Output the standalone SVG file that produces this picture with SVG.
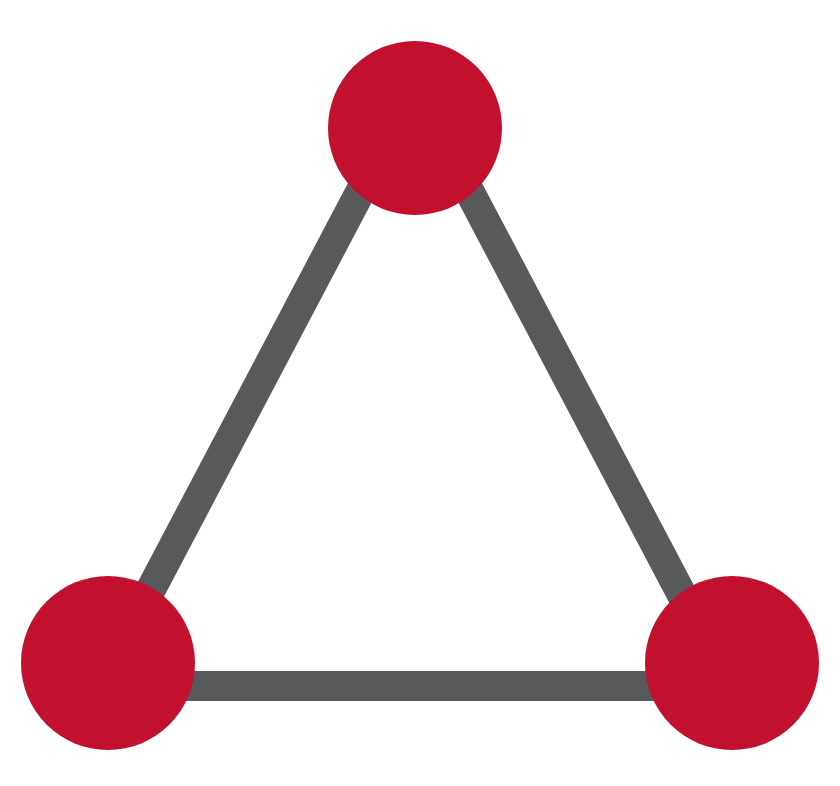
<svg xmlns="http://www.w3.org/2000/svg" width="840" height="786" viewBox="0 0 840 786">
<style>
.edge{stroke:#58595b;stroke-width:30;fill:none;stroke-linecap:butt}
.node{fill:#c1112f}
</style>
<rect width="840" height="786" fill="#ffffff"/>
<g id="connectors">
<line class="edge" x1="415" y1="88" x2="100" y2="686"/>
<line class="edge" x1="415" y1="88" x2="730" y2="686"/>
<line class="edge" x1="100" y1="686" x2="730" y2="686"/>
</g>
<g id="node-top"><circle class="node" cx="415" cy="128" r="87"/></g>
<g id="node-left"><circle class="node" cx="108" cy="663" r="87"/></g>
<g id="node-right"><circle class="node" cx="732" cy="663" r="87"/></g>
</svg>
